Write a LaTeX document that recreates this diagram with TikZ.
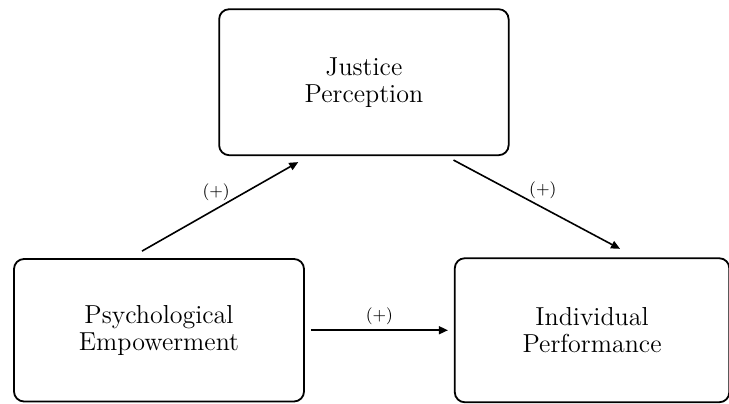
\documentclass[tikz,border=0pt]{standalone}
\usetikzlibrary{arrows.meta, positioning}

\begin{document}
\begin{tikzpicture}[
  x=0.5pt, y=0.5pt,
  construct/.style = {rectangle, rounded corners=5pt, draw, line width=0.9pt,
                      align=center, font=\fontsize{13}{13.5}\selectfont},
  arrow/.style     = {-{Triangle[length=4.5pt, width=4pt]}, line width=0.8pt},
  sign/.style      = {font=\fontsize{8.5}{10}\selectfont, inner sep=1pt},
  node distance    = 74.5pt
]
\useasboundingbox (0,0) rectangle (729,403);

% ── Constructs ───────────────────────────────────────────────────────────────
\node[construct, minimum width=145pt, minimum height=71.25pt]
  (pe) at (159,72.75) {Psychological\\Empowerment};

\node[construct, minimum width=137.25pt, minimum height=72pt, right=of pe]
  (ip) {Individual\\Performance};

\node[construct, minimum width=144.75pt, minimum height=73pt,
      above=51pt of pe.north east, xshift=29.5pt]
  (jp) {Justice\\Perception};

% ── Paths ────────────────────────────────────────────────────────────────────
\draw[arrow] ([xshift=-8.5pt, yshift=3.5pt]pe.north)
  -- ([xshift=40pt, yshift=-3pt]jp.south west)
  node[midway, sign, above=1.5pt, xshift=-2pt] {(+)};

\draw[arrow] ([xshift=-28pt, yshift=-2pt]jp.south east)
  -- ([xshift=14pt, yshift=4.25pt]ip.north)
  node[midway, sign, above=1.5pt, xshift=3pt] {(+)};

\draw[arrow] ([xshift=3pt]pe.east) -- ([xshift=-3pt]pe.east -| ip.west)
  node[midway, sign, above=1.5pt] {(+)};

\end{tikzpicture}
\end{document}
